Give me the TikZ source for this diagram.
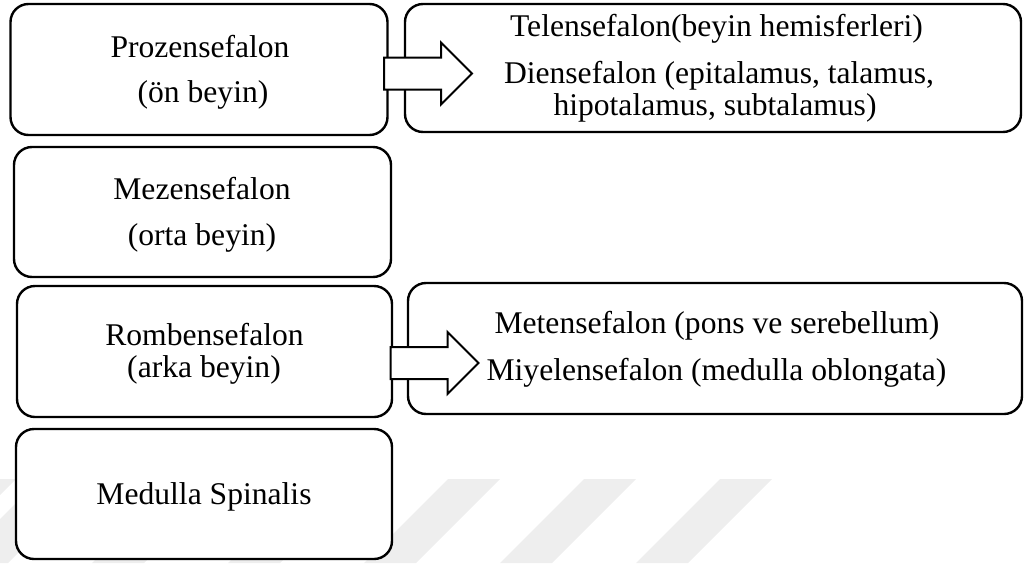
\documentclass[tikz,border=0pt]{standalone}
\usepackage{fontspec}
\setmainfont{Liberation Serif}
\usetikzlibrary{shapes.arrows}
\begin{document}
\begin{tikzpicture}[x=1pt,y=-1pt,
  box/.style={draw=black, line width=2.4pt, rounded corners=18pt, fill=white, inner sep=0pt},
  lbl/.style={anchor=base, inner sep=0pt, font=\fontsize{31.6pt}{38pt}\selectfont},
  blockarrow/.style={single arrow, draw=black, line width=2pt, fill=white,
    text height=0pt, text depth=0pt, inner xsep=0pt, inner ysep=15pt,
    single arrow head extend=15pt, single arrow tip angle=90, minimum height=88pt},
  wm/.style={fill=gray!13, draw=none}]
\useasboundingbox (0,0) rectangle (1029,563);
% watermark
\foreach \t in {-36,40,176,312,448,584,720}{
  \fill[gray!13] (\t,479) -- (\t+52,479) -- (\t+52-84,563) -- (\t-84,563) -- cycle;
}
% boxes
\node[box, minimum width=377pt, minimum height=131pt] (pro) at (199,69.5) {};
\node[box, minimum width=616pt, minimum height=128pt] (tel) at (713,68) {};
\node[box, minimum width=377pt, minimum height=130pt] (mez) at (202.5,212) {};
\node[box, minimum width=375pt, minimum height=131pt] (rom) at (204.5,351.5) {};
\node[box, minimum width=614pt, minimum height=131pt] (met) at (715,348.5) {};
\node[box, minimum width=376pt, minimum height=130pt] (med) at (204,494) {};
% arrows
\node[blockarrow] (a1) at (420,73.5) {};
\node[blockarrow] (a2) at (426.5,363) {};
% texts
\node[lbl] (t1a) at (200,57) {Prozensefalon};
\node[lbl] (t1b) at (203,102) {(ön beyin)};
\node[lbl] (t2a) at (202,199) {Mezensefalon};
\node[lbl] (t2b) at (202,245) {(orta beyin)};
\node[lbl] (t3a) at (204.5,345) {Rombensefalon};
\node[lbl] (t3b) at (204,377) {(arka beyin)};
\node[lbl] (t4) at (204,504) {Medulla Spinalis};
\node[lbl] (tt1) at (716.5,36) {Telensefalon(beyin hemisferleri)};
\node[lbl] (tt2) at (719,83) {Diensefalon (epitalamus, talamus,};
\node[lbl] (tt3) at (715,115) {hipotalamus, subtalamus)};
\node[lbl] (tm1) at (717,333) {Metensefalon (pons ve serebellum)};
\node[lbl] (tm2) at (716.5,380) {Miyelensefalon (medulla oblongata)};
\end{tikzpicture}
\end{document}
